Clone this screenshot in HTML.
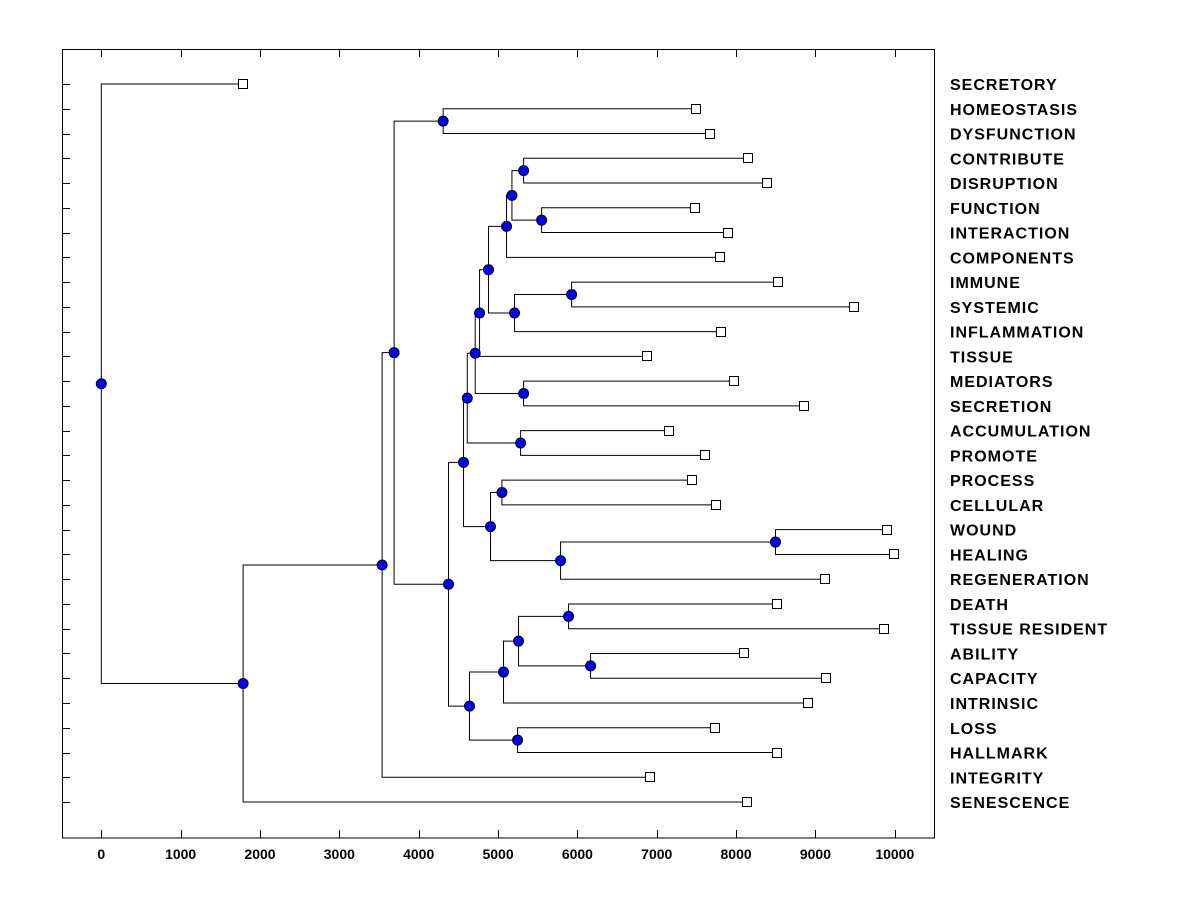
<!DOCTYPE html>
<html><head><meta charset="utf-8"><style>
html,body{margin:0;padding:0;background:#fff;}
svg{display:block;font-family:"Liberation Sans",Arial,sans-serif;}
</style></head><body>
<svg id="chart" width="1200" height="900" viewBox="0 0 1200 900">
<rect x="62.5" y="49.5" width="872" height="788.5" fill="none" stroke="#000" stroke-width="1"/>
<g id="axis"></g>
<g id="ticksY"></g>
<g id="links"></g>
<g id="marks"></g>
<g id="labels"></g>
</svg>
<script>
const leafNames = ["SECRETORY","HOMEOSTASIS","DYSFUNCTION","CONTRIBUTE","DISRUPTION","FUNCTION","INTERACTION","COMPONENTS","IMMUNE","SYSTEMIC","INFLAMMATION","TISSUE","MEDIATORS","SECRETION","ACCUMULATION","PROMOTE","PROCESS","CELLULAR","WOUND","HEALING","REGENERATION","DEATH","TISSUE RESIDENT","ABILITY","CAPACITY","INTRINSIC","LOSS","HALLMARK","INTEGRITY","SENESCENCE"];
const leafValues = [1787,7500,7677,8156,8395,7487,7903,7802,8533,9492,7814,6881,7979,8861,7159,7613,7449,7752,9908,9996,9126,8521,9870,8104,9139,8912,7738,8521,6920,8143];
const xTicks = [0,1000,2000,3000,4000,5000,6000,7000,8000,9000,10000];
// tree: [height, left, right]; leaves referenced by index
const tree = [0, 0,
  [1787,
    [3539,
      [3690,
        [4308, 1, 2],
        [4376,
          [4565,
            [4612,
              [4712,
                [4767,
                  [4880,
                    [5107, [5175, [5322, 3, 4], [5549, 5, 6]], 7],
                    [5208, [5927, 8, 9], 10]
                  ],
                  11
                ],
                [5322, 12, 13]
              ],
              [5284, 14, 15]
            ],
            [4905, [5049, 16, 17], [5788, [8496, 18, 19], 20]]
          ],
          [4640,
            [5069, [5258, [5889, 21, 22], [6166, 23, 24]], 25],
            [5246, 26, 27]
          ]
        ]
      ],
      28
    ],
    29
  ]
];
const NS="http://www.w3.org/2000/svg";
const X0=101.3, SX=0.07935, Y0=84, DY=24.76;
const xs=v=>X0+v*SX, ys=i=>Y0+i*DY;
function mk(tag,attrs,parent){const e=document.createElementNS(NS,tag);for(const k in attrs)e.setAttribute(k,attrs[k]);parent.appendChild(e);return e;}
const gA=document.getElementById('axis'),gT=document.getElementById('ticksY'),gL=document.getElementById('links'),gM=document.getElementById('marks'),gLab=document.getElementById('labels');
xTicks.forEach(t=>{
  const x=Math.round(xs(t))+0.5;
  const a=mk('line',{x1:x,x2:x,y1:838,y2:830,stroke:'#000'},gA);
  
  
  const b=mk('line',{x1:x,x2:x,y1:49.5,y2:57,stroke:'#000'},gA);
  
  
  const tx=mk('text',{x:xs(t),y:859,'text-anchor':'middle','font-size':'14px','font-weight':'bold',fill:'#000'},gA);
  tx.textContent=t;
  
  
});
leafNames.forEach((n,i)=>{
  const y=Math.round(ys(i))+0.5;
  const tk=mk('line',{x1:62.5,x2:70,y1:y,y2:y,stroke:'#000'},gT);
  
  
  const t=mk('text',{x:950,y:ys(i)+6,'font-size':'16px','font-weight':'bold','letter-spacing':'1px',fill:'#000'},gLab);
  t.textContent=n;
  
  
});
const dots=[],squares=[];
function walk(n){
  if(typeof n==='number'){
    const p={x:xs(leafValues[n]),y:ys(n)};squares.push(p);return p;
  }
  const c1=walk(n[1]),c2=walk(n[2]);
  const x=xs(n[0]),y=(c1.y+c2.y)/2;
  [c1,c2].forEach(c=>{
    const pl=mk('polyline',{points:`${x},${y} ${x},${c.y} ${c.x},${c.y}`,fill:'none',stroke:'#000','stroke-width':1},gL);
    
    
  });
  dots.push({x,y});
  return {x,y};
}
walk(tree);
squares.forEach(p=>{
  const r=mk('rect',{x:Math.round(p.x)-4.5,y:Math.round(p.y)-4.5,width:9,height:9,fill:'#fff',stroke:'#000'},gM);
  
  
});
dots.forEach(p=>{
  const c=mk('circle',{cx:p.x,cy:p.y,r:5,fill:'#0000ff',stroke:'#000','stroke-width':1},gM);
  
  
});
</script>
</body></html>
